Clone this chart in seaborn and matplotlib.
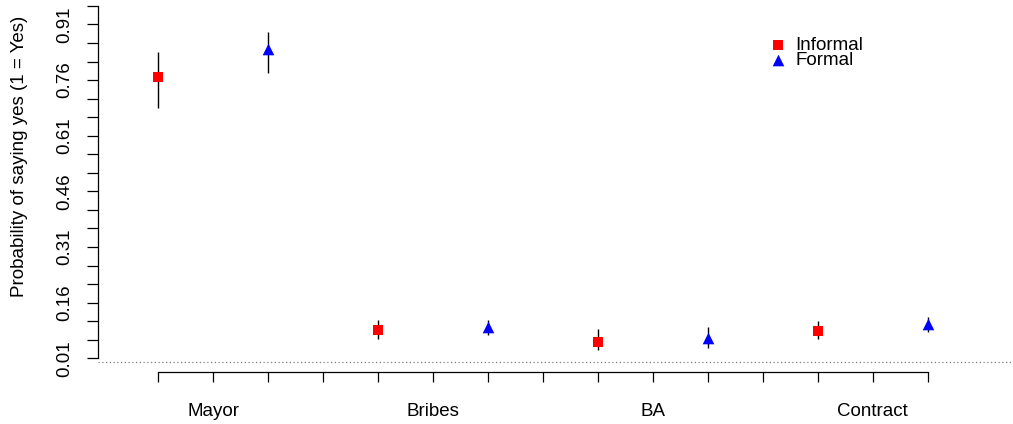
import pandas as pd
import numpy as np
import matplotlib.pyplot as plt
import seaborn as sns

# позиции и оценки (читаем с картинки)
categories = ['Mayor', 'Bribes', 'BA', 'Contract']
cat_pos = [2, 6, 10, 14]
informal_x = [1, 5, 9, 13]
formal_x = [3, 7, 11, 15]
informal_est = [0.768, 0.086, 0.053, 0.083]
informal_lo = [0.684, 0.062, 0.032, 0.062]
informal_hi = [0.837, 0.113, 0.088, 0.111]
formal_est = [0.844, 0.095, 0.064, 0.102]
formal_lo = [0.780, 0.073, 0.039, 0.082]
formal_hi = [0.889, 0.113, 0.094, 0.121]
y_ticks = np.round(np.arange(0.01, 0.961, 0.05), 2)

df = pd.DataFrame({
    'x': informal_x + formal_x,
    'prob': informal_est + formal_est,
    'lo': informal_lo + formal_lo,
    'hi': informal_hi + formal_hi,
    'type': ['Informal'] * 4 + ['Formal'] * 4,
})

sns.set_style('ticks')
plt.rcParams['font.family'] = ['Liberation Sans', 'DejaVu Sans']
fs = 13.5

fig = plt.figure(figsize=(10.13, 4.24), dpi=100)
ax = fig.add_axes([0.0965, 0.1226, 0.9025, 0.8774])

ax.axhline(0, color='gray', linestyle=(0, (1, 2)), linewidth=0.9, zorder=1)
ax.vlines(df['x'], df['lo'], df['hi'], color='black', linewidth=1.0, zorder=2)

styles = {'Informal': ('red', 's', 44), 'Formal': ('blue', '^', 70)}
for name, (col, mk, sz) in styles.items():
    sub = df[df['type'] == name]
    sns.scatterplot(data=sub, x='x', y='prob', color=col, marker=mk, s=sz,
                    linewidth=0, label=name, ax=ax, zorder=3)

ax.set_xlim(-0.096, 16.53)
ax.set_ylim(-0.027, 0.976)

ax.set_yticks(y_ticks)
ax.set_yticklabels([f'{v:.2f}' if i % 3 == 0 else '' for i, v in enumerate(y_ticks)],
                   rotation=90, va='center', fontsize=fs)
xt = list(range(1, 16))
ax.set_xticks(xt)
ax.set_xticklabels([categories[cat_pos.index(t)] if t in cat_pos else '' for t in xt],
                   fontsize=fs)
ax.tick_params(axis='x', length=7, width=0.9, pad=15.5, colors='black')
ax.tick_params(axis='y', length=8, width=0.9, pad=9.5, colors='black')

sns.despine(ax=ax, top=True, right=True)
ax.spines['left'].set_bounds(0.01, 0.96)
ax.spines['bottom'].set_bounds(1, 15)
for s in ['left', 'bottom']:
    ax.spines[s].set_linewidth(0.9)
    ax.spines[s].set_color('black')

ax.set_xlabel('')
ax.set_ylabel('Probability of saying yes (1 = Yes)', fontsize=fs, color='black')
ax.yaxis.set_label_coords(-0.076, 0.579)

ax.legend(loc='upper left', bbox_to_anchor=(0.736, 0.902), frameon=False,
          fontsize=fs, handlelength=0.8, handletextpad=0.5, labelspacing=-0.1,
          borderpad=0, borderaxespad=0, labelcolor='black')

fig.savefig('out.png', dpi=100)
